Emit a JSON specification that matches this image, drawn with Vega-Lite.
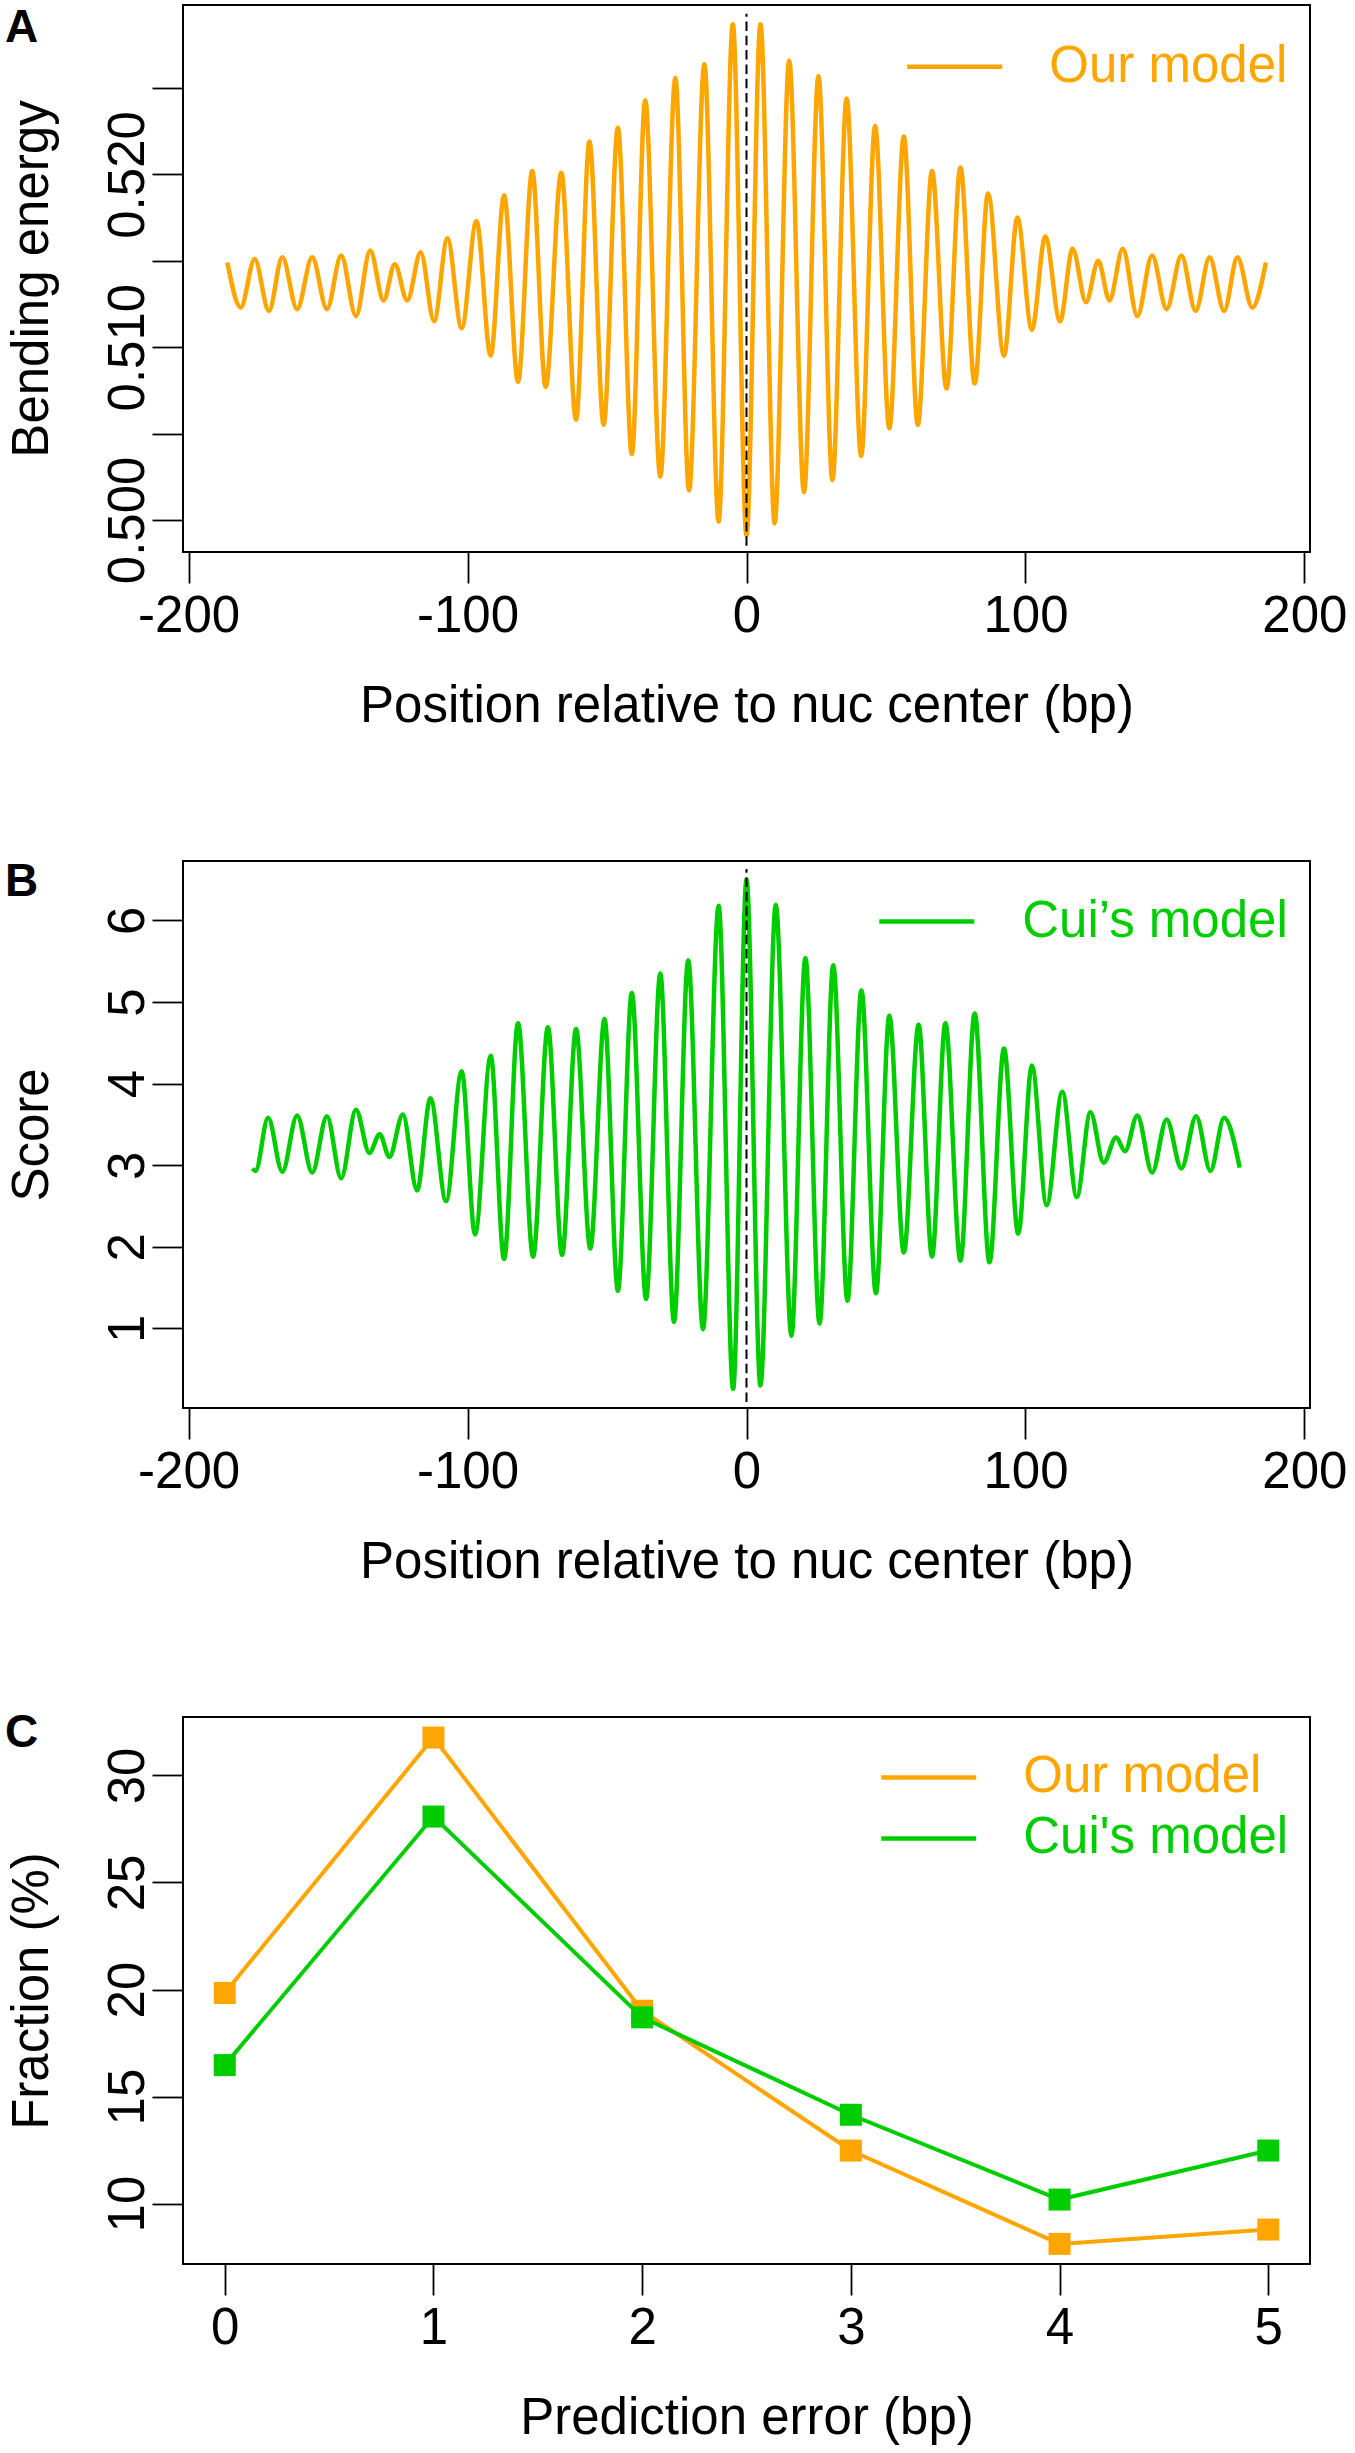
{
  "$schema": "https://vega.github.io/schema/vega-lite/v6.json",
  "background": "white",
  "padding": {"left": 4, "top": 3, "right": 5, "bottom": 5},
  "bounds": "flush",
  "spacing": 309,
  "resolve": {"scale": {"color": "independent"}, "legend": {"color": "independent"}},
  "config": {
    "font": "Liberation Sans",
    "view": {"stroke": "black", "strokeWidth": 2},
    "axis": {
      "grid": false, "domain": false, "tickColor": "black", "tickWidth": 1.8, "tickSize": 31,
      "labelFont": "Liberation Sans", "titleFont": "Liberation Sans",
      "labelFontSize": 51, "titleFontSize": 51, "titleFontWeight": "normal",
      "labelColor": "black", "titleColor": "black", "labelFlush": false, "labelOverlap": false
    },
    "axisX": {"labelPadding": 8, "titlePadding": 40, "labelAngle": 0},
    "axisY": {"labelAngle": -90, "labelAlign": "center", "labelBaseline": "alphabetic", "labelPadding": 9, "titlePadding": 44},
    "title": {"anchor": "start", "frame": "group", "fontSize": 46, "fontWeight": "bold", "font": "Liberation Sans", "color": "black", "baseline": "alphabetic", "offset": 0, "orient": "none"},
    "legend": {"title": null, "orient": "none", "padding": 0, "labelFont": "Liberation Sans", "labelFontSize": 51, "labelLimit": 0, "symbolType": "M-1,0H3", "symbolSize": 2256, "symbolStrokeWidth": 4.5, "symbolFillColor": "transparent"}
  },
  "datasets": {
    "energy": [
      {"pos": -186.1, "value": 0.5149, "model": "Our model"},
      {"pos": -181.3, "value": 0.5123, "model": "Our model"},
      {"pos": -176.3, "value": 0.5151, "model": "Our model"},
      {"pos": -171.2, "value": 0.5121, "model": "Our model"},
      {"pos": -166.4, "value": 0.5152, "model": "Our model"},
      {"pos": -161.1, "value": 0.5122, "model": "Our model"},
      {"pos": -155.7, "value": 0.5152, "model": "Our model"},
      {"pos": -150.4, "value": 0.5122, "model": "Our model"},
      {"pos": -145.3, "value": 0.5153, "model": "Our model"},
      {"pos": -140.0, "value": 0.5118, "model": "Our model"},
      {"pos": -134.9, "value": 0.5156, "model": "Our model"},
      {"pos": -130.1, "value": 0.5127, "model": "Our model"},
      {"pos": -126.1, "value": 0.5148, "model": "Our model"},
      {"pos": -121.6, "value": 0.5127, "model": "Our model"},
      {"pos": -116.8, "value": 0.5155, "model": "Our model"},
      {"pos": -112.0, "value": 0.5115, "model": "Our model"},
      {"pos": -107.2, "value": 0.5163, "model": "Our model"},
      {"pos": -102.1, "value": 0.5111, "model": "Our model"},
      {"pos": -96.8, "value": 0.5173, "model": "Our model"},
      {"pos": -91.7, "value": 0.5095, "model": "Our model"},
      {"pos": -86.9, "value": 0.5188, "model": "Our model"},
      {"pos": -81.9, "value": 0.5080, "model": "Our model"},
      {"pos": -76.8, "value": 0.5202, "model": "Our model"},
      {"pos": -72.0, "value": 0.5077, "model": "Our model"},
      {"pos": -66.4, "value": 0.5201, "model": "Our model"},
      {"pos": -61.1, "value": 0.5058, "model": "Our model"},
      {"pos": -56.3, "value": 0.5219, "model": "Our model"},
      {"pos": -51.2, "value": 0.5055, "model": "Our model"},
      {"pos": -46.1, "value": 0.5227, "model": "Our model"},
      {"pos": -41.1, "value": 0.5038, "model": "Our model"},
      {"pos": -36.3, "value": 0.5243, "model": "Our model"},
      {"pos": -30.9, "value": 0.5025, "model": "Our model"},
      {"pos": -25.5, "value": 0.5256, "model": "Our model"},
      {"pos": -20.6, "value": 0.5017, "model": "Our model"},
      {"pos": -15.1, "value": 0.5264, "model": "Our model"},
      {"pos": -10.0, "value": 0.4999, "model": "Our model"},
      {"pos": -4.9, "value": 0.5287, "model": "Our model"},
      {"pos": 0.0, "value": 0.4991, "model": "Our model"},
      {"pos": 5.0, "value": 0.5287, "model": "Our model"},
      {"pos": 10.1, "value": 0.4998, "model": "Our model"},
      {"pos": 15.3, "value": 0.5266, "model": "Our model"},
      {"pos": 20.6, "value": 0.5016, "model": "Our model"},
      {"pos": 25.8, "value": 0.5257, "model": "Our model"},
      {"pos": 30.8, "value": 0.5023, "model": "Our model"},
      {"pos": 35.9, "value": 0.5244, "model": "Our model"},
      {"pos": 41.1, "value": 0.5037, "model": "Our model"},
      {"pos": 46.1, "value": 0.5228, "model": "Our model"},
      {"pos": 51.2, "value": 0.5053, "model": "Our model"},
      {"pos": 56.4, "value": 0.5222, "model": "Our model"},
      {"pos": 61.4, "value": 0.5055, "model": "Our model"},
      {"pos": 66.5, "value": 0.5202, "model": "Our model"},
      {"pos": 71.7, "value": 0.5076, "model": "Our model"},
      {"pos": 76.7, "value": 0.5204, "model": "Our model"},
      {"pos": 81.8, "value": 0.5079, "model": "Our model"},
      {"pos": 86.6, "value": 0.5189, "model": "Our model"},
      {"pos": 92.3, "value": 0.5095, "model": "Our model"},
      {"pos": 97.1, "value": 0.5175, "model": "Our model"},
      {"pos": 102.3, "value": 0.5110, "model": "Our model"},
      {"pos": 107.1, "value": 0.5164, "model": "Our model"},
      {"pos": 112.4, "value": 0.5115, "model": "Our model"},
      {"pos": 116.9, "value": 0.5157, "model": "Our model"},
      {"pos": 121.7, "value": 0.5126, "model": "Our model"},
      {"pos": 126.1, "value": 0.5150, "model": "Our model"},
      {"pos": 130.1, "value": 0.5127, "model": "Our model"},
      {"pos": 134.9, "value": 0.5157, "model": "Our model"},
      {"pos": 140.1, "value": 0.5118, "model": "Our model"},
      {"pos": 145.4, "value": 0.5153, "model": "Our model"},
      {"pos": 150.6, "value": 0.5122, "model": "Our model"},
      {"pos": 155.9, "value": 0.5153, "model": "Our model"},
      {"pos": 161.0, "value": 0.5121, "model": "Our model"},
      {"pos": 166.0, "value": 0.5152, "model": "Our model"},
      {"pos": 171.2, "value": 0.5121, "model": "Our model"},
      {"pos": 176.0, "value": 0.5152, "model": "Our model"},
      {"pos": 181.3, "value": 0.5123, "model": "Our model"},
      {"pos": 186.2, "value": 0.5149, "model": "Our model"}
    ],
    "score": [
      {"pos": -177.1, "value": 2.96, "model": "Cui’s model"},
      {"pos": -176.0, "value": 2.93, "model": "Cui’s model"},
      {"pos": -171.5, "value": 3.58, "model": "Cui’s model"},
      {"pos": -166.4, "value": 2.92, "model": "Cui’s model"},
      {"pos": -161.1, "value": 3.61, "model": "Cui’s model"},
      {"pos": -155.7, "value": 2.91, "model": "Cui’s model"},
      {"pos": -150.4, "value": 3.60, "model": "Cui’s model"},
      {"pos": -145.3, "value": 2.84, "model": "Cui’s model"},
      {"pos": -140.0, "value": 3.68, "model": "Cui’s model"},
      {"pos": -135.2, "value": 3.15, "model": "Cui’s model"},
      {"pos": -131.5, "value": 3.38, "model": "Cui’s model"},
      {"pos": -128.0, "value": 3.10, "model": "Cui’s model"},
      {"pos": -123.2, "value": 3.62, "model": "Cui’s model"},
      {"pos": -118.1, "value": 2.69, "model": "Cui’s model"},
      {"pos": -113.3, "value": 3.82, "model": "Cui’s model"},
      {"pos": -107.7, "value": 2.56, "model": "Cui’s model"},
      {"pos": -102.1, "value": 4.15, "model": "Cui’s model"},
      {"pos": -97.3, "value": 2.15, "model": "Cui’s model"},
      {"pos": -91.7, "value": 4.34, "model": "Cui’s model"},
      {"pos": -86.9, "value": 1.85, "model": "Cui’s model"},
      {"pos": -81.9, "value": 4.74, "model": "Cui’s model"},
      {"pos": -76.5, "value": 1.88, "model": "Cui’s model"},
      {"pos": -71.2, "value": 4.69, "model": "Cui’s model"},
      {"pos": -66.1, "value": 1.90, "model": "Cui’s model"},
      {"pos": -61.1, "value": 4.67, "model": "Cui’s model"},
      {"pos": -56.0, "value": 1.98, "model": "Cui’s model"},
      {"pos": -50.9, "value": 4.79, "model": "Cui’s model"},
      {"pos": -46.1, "value": 1.46, "model": "Cui’s model"},
      {"pos": -41.1, "value": 5.11, "model": "Cui’s model"},
      {"pos": -36.0, "value": 1.36, "model": "Cui’s model"},
      {"pos": -30.9, "value": 5.35, "model": "Cui’s model"},
      {"pos": -26.0, "value": 1.08, "model": "Cui’s model"},
      {"pos": -20.9, "value": 5.51, "model": "Cui’s model"},
      {"pos": -15.6, "value": 0.99, "model": "Cui’s model"},
      {"pos": -10.0, "value": 6.18, "model": "Cui’s model"},
      {"pos": -4.8, "value": 0.26, "model": "Cui’s model"},
      {"pos": 0.0, "value": 6.50, "model": "Cui’s model"},
      {"pos": 5.0, "value": 0.30, "model": "Cui’s model"},
      {"pos": 10.5, "value": 6.19, "model": "Cui’s model"},
      {"pos": 16.1, "value": 0.91, "model": "Cui’s model"},
      {"pos": 21.1, "value": 5.54, "model": "Cui’s model"},
      {"pos": 26.2, "value": 1.06, "model": "Cui’s model"},
      {"pos": 31.1, "value": 5.45, "model": "Cui’s model"},
      {"pos": 36.2, "value": 1.34, "model": "Cui’s model"},
      {"pos": 41.2, "value": 5.14, "model": "Cui’s model"},
      {"pos": 46.4, "value": 1.43, "model": "Cui’s model"},
      {"pos": 51.2, "value": 4.83, "model": "Cui’s model"},
      {"pos": 56.4, "value": 1.93, "model": "Cui’s model"},
      {"pos": 61.7, "value": 4.72, "model": "Cui’s model"},
      {"pos": 66.5, "value": 1.88, "model": "Cui’s model"},
      {"pos": 71.3, "value": 4.74, "model": "Cui’s model"},
      {"pos": 76.7, "value": 1.83, "model": "Cui’s model"},
      {"pos": 81.8, "value": 4.86, "model": "Cui’s model"},
      {"pos": 87.1, "value": 1.81, "model": "Cui’s model"},
      {"pos": 92.3, "value": 4.43, "model": "Cui’s model"},
      {"pos": 97.4, "value": 2.16, "model": "Cui’s model"},
      {"pos": 102.3, "value": 4.22, "model": "Cui’s model"},
      {"pos": 107.6, "value": 2.51, "model": "Cui’s model"},
      {"pos": 113.2, "value": 3.90, "model": "Cui’s model"},
      {"pos": 118.4, "value": 2.61, "model": "Cui’s model"},
      {"pos": 123.3, "value": 3.65, "model": "Cui’s model"},
      {"pos": 128.0, "value": 3.03, "model": "Cui’s model"},
      {"pos": 132.5, "value": 3.34, "model": "Cui’s model"},
      {"pos": 135.7, "value": 3.17, "model": "Cui’s model"},
      {"pos": 140.1, "value": 3.61, "model": "Cui’s model"},
      {"pos": 145.4, "value": 2.91, "model": "Cui’s model"},
      {"pos": 150.6, "value": 3.56, "model": "Cui’s model"},
      {"pos": 155.9, "value": 2.96, "model": "Cui’s model"},
      {"pos": 161.2, "value": 3.60, "model": "Cui’s model"},
      {"pos": 166.3, "value": 2.93, "model": "Cui’s model"},
      {"pos": 171.2, "value": 3.58, "model": "Cui’s model"},
      {"pos": 176.8, "value": 2.97, "model": "Cui’s model"}
    ],
    "fraction": [
      {"error": 0, "fraction": 19.84, "model": "Our model"},
      {"error": 1, "fraction": 31.77, "model": "Our model"},
      {"error": 2, "fraction": 19.01, "model": "Our model"},
      {"error": 3, "fraction": 12.48, "model": "Our model"},
      {"error": 4, "fraction": 8.12, "model": "Our model"},
      {"error": 5, "fraction": 8.79, "model": "Our model"},
      {"error": 0, "fraction": 16.47, "model": "Cui's model"},
      {"error": 1, "fraction": 28.08, "model": "Cui's model"},
      {"error": 2, "fraction": 18.70, "model": "Cui's model"},
      {"error": 3, "fraction": 14.15, "model": "Cui's model"},
      {"error": 4, "fraction": 10.19, "model": "Cui's model"},
      {"error": 5, "fraction": 12.48, "model": "Cui's model"}
    ]
  },
  "vconcat": [
    {
      "width": 1127, "height": 547,
      "title": {"text": "A", "dx": -178, "dy": 36.5, "fontSize": 46, "fontWeight": "bold", "anchor": "start", "frame": "group", "baseline": "alphabetic", "offset": 0, "orient": "none"},
      "layer": [
        {
          "data": {"name": "energy"},
          "mark": {"type": "line", "interpolate": "monotone", "strokeWidth": 4.5, "clip": true},
          "encoding": {
            "x": {"field": "pos", "type": "quantitative", "scale": {"domain": [-202, 202], "nice": false, "zero": false},
                  "axis": {"values": [-200, -100, 0, 100, 200], "labelExpr": "'' + datum.value", "title": "Position relative to nuc center (bp)"}},
            "y": {"field": "value", "type": "quantitative", "scale": {"domain": [0.49814, 0.52981], "nice": false, "zero": false},
                  "axis": {"values": [0.5, 0.505, 0.51, 0.515, 0.52, 0.525], "labelExpr": "round(datum.value * 1000) % 10 == 0 ? format(datum.value, '.3f') : ''", "title": "Bending energy"}},
            "color": {"field": "model", "type": "nominal", "scale": {"domain": ["Our model"], "range": ["#FFA500"]},
                      "legend": {"legendX": 722, "legendY": 35.7, "labelOffset": 92.25, "labelColor": "#FFA500"}}
          }
        },
        {
          "data": {"values": [{}]},
          "mark": {"type": "rule", "color": "black", "strokeWidth": 2, "strokeDash": [9.5, 4.8]},
          "encoding": {"x": {"datum": 0}, "y": {"datum": 0.4985}, "y2": {"datum": 0.5293}}
        }
      ]
    },
    {
      "width": 1127, "height": 547,
      "title": {"text": "B", "dx": -178, "dy": 35, "fontSize": 46, "fontWeight": "bold", "anchor": "start", "frame": "group", "baseline": "alphabetic", "offset": 0, "orient": "none"},
      "layer": [
        {
          "data": {"name": "score"},
          "mark": {"type": "line", "interpolate": "monotone", "strokeWidth": 4.5, "clip": true},
          "encoding": {
            "x": {"field": "pos", "type": "quantitative", "scale": {"domain": [-202, 202], "nice": false, "zero": false},
                  "axis": {"values": [-200, -100, 0, 100, 200], "labelExpr": "'' + datum.value", "title": "Position relative to nuc center (bp)"}},
            "y": {"field": "value", "type": "quantitative", "scale": {"domain": [0.025, 6.727], "nice": false, "zero": false},
                  "axis": {"values": [1, 2, 3, 4, 5, 6], "labelExpr": "'' + datum.value", "title": "Score"}},
            "color": {"field": "model", "type": "nominal", "scale": {"domain": ["Cui’s model"], "range": ["#00CD00"]},
                      "legend": {"legendX": 694, "legendY": 34.5, "labelOffset": 93.25, "labelColor": "#00CD00"}}
          }
        },
        {
          "data": {"values": [{}]},
          "mark": {"type": "rule", "color": "black", "strokeWidth": 2, "strokeDash": [9.5, 4.8]},
          "encoding": {"x": {"datum": 0}, "y": {"datum": 0.1}, "y2": {"datum": 6.63}}
        }
      ]
    },
    {
      "width": 1127, "height": 547,
      "title": {"text": "C", "dx": -178, "dy": 30, "fontSize": 46, "fontWeight": "bold", "anchor": "start", "frame": "group", "baseline": "alphabetic", "offset": 0, "orient": "none"},
      "data": {"name": "fraction"},
      "encoding": {
        "x": {"field": "error", "type": "quantitative", "scale": {"domain": [-0.2, 5.2], "nice": false, "zero": false},
              "axis": {"values": [0, 1, 2, 3, 4, 5], "labelExpr": "'' + datum.value", "title": "Prediction error (bp)"}},
        "y": {"field": "fraction", "type": "quantitative", "scale": {"domain": [7.18, 32.73], "nice": false, "zero": false},
              "axis": {"values": [10, 15, 20, 25, 30], "labelExpr": "'' + datum.value", "title": "Fraction (%)"}},
        "color": {"field": "model", "type": "nominal", "scale": {"domain": ["Our model", "Cui's model"], "range": ["#FFA500", "#00CD00"]},
                  "legend": {"legendX": 696, "legendY": 34.4, "labelOffset": 92.25, "rowPadding": 10,
                             "labelColor": {"expr": "datum.value == 'Our model' ? '#FFA500' : '#00CD00'"}}}
      },
      "layer": [
        {
          "transform": [{"filter": "datum.model == 'Our model'"}],
          "mark": {"type": "line", "strokeWidth": 4, "point": {"shape": "square", "size": 484, "filled": true, "opacity": 1}}
        },
        {
          "transform": [{"filter": "datum.model != 'Our model'"}],
          "mark": {"type": "line", "strokeWidth": 4, "point": {"shape": "square", "size": 484, "filled": true, "opacity": 1}}
        }
      ]
    }
  ]
}
